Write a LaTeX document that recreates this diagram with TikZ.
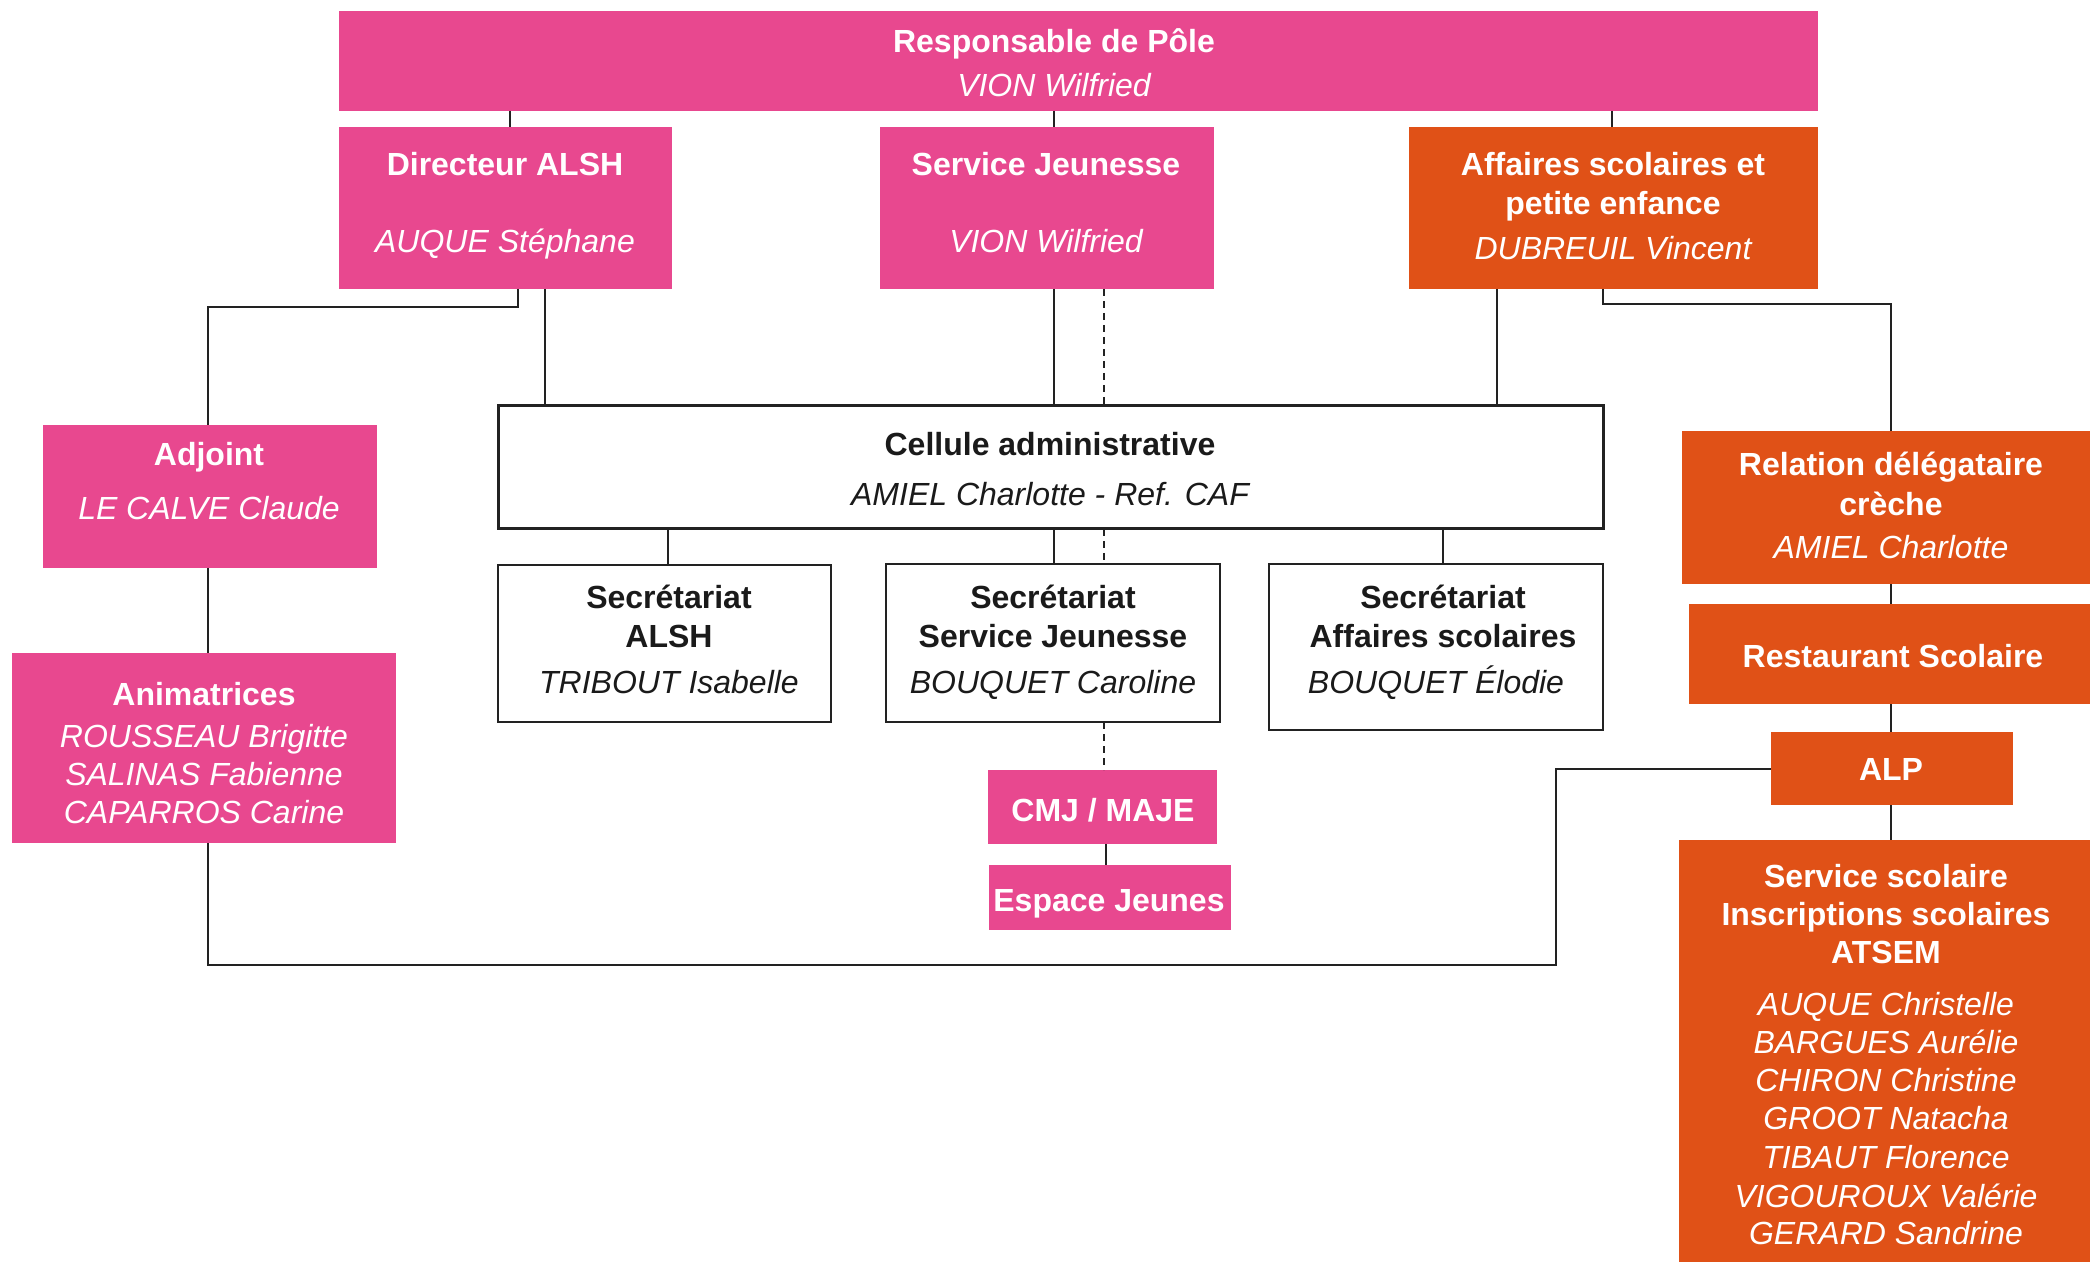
\documentclass[tikz,border=0pt]{standalone}
\usepackage{fontspec}
\setmainfont{Liberation Sans}
\definecolor{pinkc}{HTML}{E8488F}
\definecolor{orangec}{HTML}{E05117}
\definecolor{linec}{HTML}{222222}
\definecolor{textc}{HTML}{1A1A1A}
\begin{document}
\begin{tikzpicture}[x=0.5pt,y=-0.5pt,
  pinkbox/.style={fill=pinkc, inner sep=0pt, outer sep=0pt},
  orangebox/.style={fill=orangec, inner sep=0pt, outer sep=0pt},
  whitebox/.style={draw=linec, line width=1pt, fill=white, inner sep=0pt, outer sep=0pt},
  thickbox/.style={whitebox, line width=1.5pt},
  lbl/.style={anchor=base, inner sep=0pt, yshift=-5.75pt},
  wb/.style={lbl, text=white, font=\fontsize{16}{19.2}\selectfont\bfseries},
  wi/.style={lbl, text=white, font=\fontsize{16}{19.2}\selectfont\itshape},
  db/.style={lbl, text=textc, font=\fontsize{16}{19.2}\selectfont\bfseries},
  di/.style={lbl, text=textc, font=\fontsize{16}{19.2}\selectfont\itshape},
  conn/.style={draw=linec, line width=1pt},
  dashconn/.style={conn, dash pattern=on 3.5pt off 2.5pt}]
\useasboundingbox (0,0) rectangle (2090,1262);

% x / y helper coordinates
\coordinate (xa) at (510,0);
\coordinate (xb) at (1054,0);
\coordinate (xc) at (1612,0);
\coordinate (xd) at (518,0);
\coordinate (xe) at (208,0);
\coordinate (xf) at (545,0);
\coordinate (xg) at (1104,0);
\coordinate (xh) at (1497,0);
\coordinate (xi) at (1603,0);
\coordinate (xj) at (1891,0);
\coordinate (xk) at (668,0);
\coordinate (xl) at (1443,0);
\coordinate (xm) at (1106,0);
\coordinate (xn) at (1556,0);
\coordinate (ya) at (0,307);
\coordinate (yb) at (0,304);
\coordinate (yc) at (0,965);

% boxes
\node[pinkbox, minimum width=739.5pt, minimum height=50pt] (resp) at (1078.5,61) {};
\node[pinkbox, minimum width=166.5pt, minimum height=81pt] (dir) at (505.5,208) {};
\node[pinkbox, minimum width=167pt, minimum height=81pt] (sj) at (1047,208) {};
\node[orangebox, minimum width=204.5pt, minimum height=81pt] (aff) at (1613.5,208) {};
\node[thickbox, minimum width=552.5pt, minimum height=61.5pt] (cell) at (1050.5,467.5) {};
\node[pinkbox, minimum width=167pt, minimum height=71.5pt] (adj) at (210,496.5) {};
\node[pinkbox, minimum width=192pt, minimum height=95pt] (anim) at (204,748) {};
\node[whitebox, minimum width=166.5pt, minimum height=78.5pt] (secA) at (664.5,643.5) {};
\node[whitebox, minimum width=167pt, minimum height=79pt] (secJ) at (1053,643) {};
\node[whitebox, minimum width=167pt, minimum height=83pt] (secS) at (1436,647) {};
\node[pinkbox, minimum width=114.5pt, minimum height=37pt] (cmj) at (1102.5,807) {};
\node[pinkbox, minimum width=121pt, minimum height=32.5pt] (esp) at (1110,897.5) {};
\node[orangebox, minimum width=204pt, minimum height=76.5pt] (rel) at (1886,507.5) {};
\node[orangebox, minimum width=200.5pt, minimum height=50pt] (rest) at (1889.5,654) {};
\node[orangebox, minimum width=121pt, minimum height=36.5pt] (alp) at (1892,768.5) {};
\node[orangebox, minimum width=205.5pt, minimum height=211pt] (ss) at (1884.5,1051) {};

% connectors
\draw[conn] (resp.south -| xa) -- (dir.north -| xa);
\draw[conn] (resp.south -| xb) -- (sj.north -| xb);
\draw[conn] (resp.south -| xc) -- (aff.north -| xc);
\draw[conn] (dir.south -| xd) |- (ya -| xe) -- (adj.north -| xe);
\draw[conn] (dir.south -| xf) -- (cell.north -| xf);
\draw[conn] (sj.south -| xb) -- (cell.north -| xb);
\draw[dashconn] (sj.south -| xg) -- (cell.north -| xg);
\draw[conn] (aff.south -| xh) -- (cell.north -| xh);
\draw[conn] (aff.south -| xi) |- (yb -| xj) -- (rel.north -| xj);
\draw[conn] (cell.south -| xk) -- (secA.north -| xk);
\draw[conn] (cell.south -| xb) -- (secJ.north -| xb);
\draw[dashconn] (cell.south -| xg) -- (secJ.north -| xg);
\draw[conn] (cell.south -| xl) -- (secS.north -| xl);
\draw[dashconn] (secJ.south -| xg) -- (cmj.north -| xg);
\draw[conn] (cmj.south -| xm) -- (esp.north -| xm);
\draw[conn] (adj.south -| xe) -- (anim.north -| xe);
\draw[conn] (anim.south -| xe) |- (yc -| xn) |- (alp.west);
\draw[conn] (rel.south -| xj) -- (rest.north -| xj);
\draw[conn] (rest.south -| xj) -- (alp.north -| xj);
\draw[conn] (alp.south -| xj) -- (ss.north -| xj);

% texts
\node[wb] (resp-t1) at (1054,41) {Responsable de Pôle};
\node[wi] (resp-t2) at (1054,85) {VION Wilfried};
\node[wb] (dir-t1) at (505,164) {Directeur ALSH};
\node[wi] (dir-t2) at (505,241) {AUQUE Stéphane};
\node[wb] (sj-t1) at (1046,164) {Service Jeunesse};
\node[wi] (sj-t2) at (1046,241) {VION Wilfried};
\node[wb] (aff-t1) at (1613,164) {Affaires scolaires et};
\node[wb] (aff-t2) at (1613,203) {petite enfance};
\node[wi] (aff-t3) at (1613,248) {DUBREUIL Vincent};
\node[db] (cell-t1) at (1050,444) {Cellule administrative};
\node[di] (cell-t2) at (1050,494) {AMIEL Charlotte - Ref. CAF};
\node[wb] (adj-t1) at (209,454) {Adjoint};
\node[wi] (adj-t2) at (209,508) {LE CALVE Claude};
\node[wb] (anim-t1) at (204,694) {Animatrices};
\node[wi] (anim-t2) at (204,736) {ROUSSEAU Brigitte};
\node[wi] (anim-t3) at (204,774) {SALINAS Fabienne};
\node[wi] (anim-t4) at (204,812) {CAPARROS Carine};
\node[db] (secA-t1) at (669,597) {Secrétariat};
\node[db] (secA-t2) at (669,636) {ALSH};
\node[di] (secA-t3) at (669,682) {TRIBOUT Isabelle};
\node[db] (secJ-t1) at (1053,597) {Secrétariat};
\node[db] (secJ-t2) at (1053,636) {Service Jeunesse};
\node[di] (secJ-t3) at (1053,682) {BOUQUET Caroline};
\node[db] (secS-t1) at (1443,597) {Secrétariat};
\node[db] (secS-t2) at (1443,636) {Affaires scolaires};
\node[di] (secS-t3) at (1436,682) {BOUQUET Élodie};
\node[wb] (cmj-t1) at (1103,810) {CMJ / MAJE};
\node[wb] (esp-t1) at (1109,900) {Espace Jeunes};
\node[wb] (rel-t1) at (1891,464) {Relation délégataire};
\node[wb] (rel-t2) at (1891,504) {crèche};
\node[wi] (rel-t3) at (1891,547) {AMIEL Charlotte};
\node[wb] (rest-t1) at (1893,656) {Restaurant Scolaire};
\node[wb] (alp-t1) at (1891,769) {ALP};
\node[wb] (ss-t1) at (1886,876) {Service scolaire};
\node[wb] (ss-t2) at (1886,914) {Inscriptions scolaires};
\node[wb] (ss-t3) at (1886,952) {ATSEM};
\node[wi] (ss-t4) at (1886,1004) {AUQUE Christelle};
\node[wi] (ss-t5) at (1886,1042) {BARGUES Aurélie};
\node[wi] (ss-t6) at (1886,1080) {CHIRON Christine};
\node[wi] (ss-t7) at (1886,1118) {GROOT Natacha};
\node[wi] (ss-t8) at (1886,1157) {TIBAUT Florence};
\node[wi] (ss-t9) at (1886,1196) {VIGOUROUX Valérie};
\node[wi] (ss-t10) at (1886,1233) {GERARD Sandrine};
\end{tikzpicture}
\end{document}
